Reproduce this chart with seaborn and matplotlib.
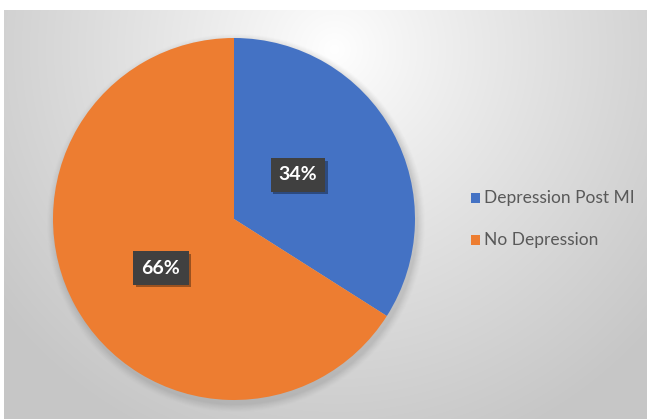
import numpy as np
import matplotlib
matplotlib.use("Agg")
import matplotlib.pyplot as plt
import matplotlib.patheffects as pe
import seaborn as sns

categories = ["Depression Post MI", "No Depression"]
values = [34, 66]
labels = ["34%", "66%"]
colors = ["#4472C4", "#ED7D31"]

sns.set_style("white")
plt.rcParams["font.family"] = ["Lato", "DejaVu Sans"]

W, H = 647, 419
fig = plt.figure(figsize=(W / 100, H / 100), dpi=100)
fig.patch.set_facecolor("white")

# background panel with radial gradient
bg = fig.add_axes([4 / W, 0, 1 - 4 / W, 409 / H])
bg.set_axis_off()
nx, ny = 643, 409
xx, yy = np.meshgrid(np.arange(nx), np.arange(ny))
cx, cy = 330, 40
d = np.sqrt(((xx - cx) / 420.0) ** 2 + ((yy - cy) / 420.0) ** 2)
d = np.clip(d, 0, 1)
light, dark = 1.0, 0.78
g = light - (light - dark) * d ** 0.9
img = np.dstack([g, g, g])
bg.imshow(img, aspect="auto", extent=[0, nx, ny, 0], interpolation="bilinear")
bg.set_xlim(0, nx)
bg.set_ylim(ny, 0)

# pie axes (pixel coordinates, y up)
ax = fig.add_axes([0, 0, 1, 1], facecolor="none")
ax.set_axis_off()

def Y(py):
    return H - py

cxp, cyp, r = 234, 219, 181
# soft shadow
for k, a in zip(range(8, 0, -1), np.linspace(0.02, 0.06, 8)):
    circ = plt.Circle((cxp + 2, Y(cyp + 4)), r + k, color="#808080", alpha=a, lw=0)
    ax.add_patch(circ)

wedges, _ = ax.pie(values, colors=colors, startangle=90, counterclock=False,
                   center=(cxp, Y(cyp)), radius=r, frame=True,
                   wedgeprops=dict(linewidth=0))
ax.set_xlim(0, W)
ax.set_ylim(0, H)
ax.set_aspect("auto")
ax.set_axis_off()

label_pos = [(298, 175), (161, 268)]
for (lx, ly), t in zip(label_pos, labels):
    txt = ax.text(lx, Y(ly), t, ha="center", va="center", fontsize=14, fontweight="bold",
                  color="white",
                  bbox=dict(boxstyle="square,pad=0.42", fc="#404040", ec="none"))
    txt.get_bbox_patch().set_path_effects([
        pe.SimplePatchShadow(offset=(2, -2), shadow_rgbFace="black", alpha=0.35),
        pe.Normal()])

# legend
leg_y = [198, 240]
for c, name, y in zip(colors, categories, leg_y):
    ax.add_patch(plt.Rectangle((471, Y(y) - 5), 9, 10, color=c, lw=0))
    ax.text(484, Y(y), name, ha="left", va="center", fontsize=12.5, color="#595959")

fig.savefig("out.png", dpi=100)
